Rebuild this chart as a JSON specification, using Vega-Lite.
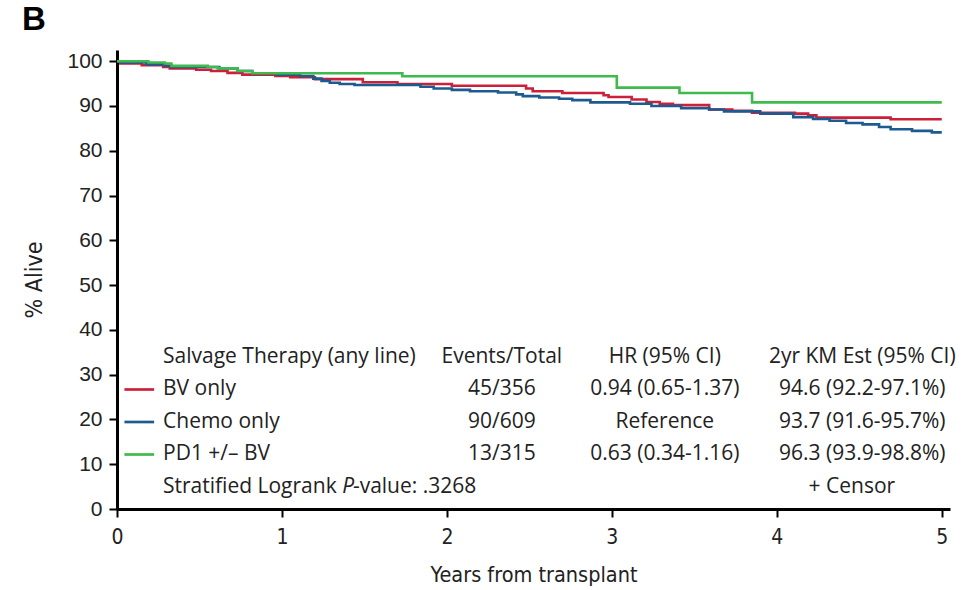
{
  "$schema": "https://vega.github.io/schema/vega-lite/v6.json",
  "width": 833,
  "height": 459,
  "autosize": {"type": "none"},
  "padding": {"left": 117, "top": 50, "right": 19, "bottom": 81},
  "background": "white",
  "title": {
    "text": "B",
    "anchor": "start",
    "frame": "group",
    "dx": -95,
    "offset": 13,
    "font": "Liberation Sans",
    "fontSize": 33,
    "fontWeight": "bold",
    "color": "#000"
  },
  "config": {
    "view": {"stroke": null},
    "axis": {"grid": false}
  },
  "datasets": {
    "km": [
      {"group": "BV only", "years": 0, "pct": 100},
      {"group": "BV only", "years": 0.02, "pct": 99.5},
      {"group": "BV only", "years": 0.15, "pct": 99.1},
      {"group": "BV only", "years": 0.28, "pct": 98.7},
      {"group": "BV only", "years": 0.32, "pct": 98.4},
      {"group": "BV only", "years": 0.48, "pct": 98.1},
      {"group": "BV only", "years": 0.57, "pct": 97.8},
      {"group": "BV only", "years": 0.67, "pct": 97.4},
      {"group": "BV only", "years": 0.76, "pct": 97.0},
      {"group": "BV only", "years": 0.96, "pct": 96.7},
      {"group": "BV only", "years": 1.05, "pct": 96.4},
      {"group": "BV only", "years": 1.2, "pct": 96.0},
      {"group": "BV only", "years": 1.49, "pct": 95.3},
      {"group": "BV only", "years": 1.7, "pct": 94.9},
      {"group": "BV only", "years": 2.03, "pct": 94.5},
      {"group": "BV only", "years": 2.48, "pct": 93.9},
      {"group": "BV only", "years": 2.52, "pct": 93.3},
      {"group": "BV only", "years": 2.7, "pct": 92.9},
      {"group": "BV only", "years": 2.95, "pct": 92.4},
      {"group": "BV only", "years": 2.98, "pct": 92.0},
      {"group": "BV only", "years": 3.12, "pct": 91.45},
      {"group": "BV only", "years": 3.21, "pct": 90.9},
      {"group": "BV only", "years": 3.29, "pct": 90.5},
      {"group": "BV only", "years": 3.37, "pct": 90.2},
      {"group": "BV only", "years": 3.59, "pct": 89.2},
      {"group": "BV only", "years": 3.73, "pct": 88.9},
      {"group": "BV only", "years": 3.85, "pct": 88.5},
      {"group": "BV only", "years": 4.11, "pct": 88.3},
      {"group": "BV only", "years": 4.19, "pct": 87.9},
      {"group": "BV only", "years": 4.24, "pct": 87.4},
      {"group": "BV only", "years": 4.69, "pct": 87.05},
      {"group": "BV only", "years": 5.0, "pct": 87.05},
      {"group": "Chemo only", "years": 0, "pct": 100},
      {"group": "Chemo only", "years": 0.02, "pct": 99.7},
      {"group": "Chemo only", "years": 0.18, "pct": 99.3},
      {"group": "Chemo only", "years": 0.29, "pct": 99.0},
      {"group": "Chemo only", "years": 0.33, "pct": 98.7},
      {"group": "Chemo only", "years": 0.62, "pct": 98.4},
      {"group": "Chemo only", "years": 0.73, "pct": 97.8},
      {"group": "Chemo only", "years": 0.82, "pct": 97.3},
      {"group": "Chemo only", "years": 0.97, "pct": 97.0},
      {"group": "Chemo only", "years": 1.11, "pct": 96.7},
      {"group": "Chemo only", "years": 1.19, "pct": 96.1},
      {"group": "Chemo only", "years": 1.24, "pct": 95.6},
      {"group": "Chemo only", "years": 1.29, "pct": 95.2},
      {"group": "Chemo only", "years": 1.35, "pct": 94.9},
      {"group": "Chemo only", "years": 1.44, "pct": 94.7},
      {"group": "Chemo only", "years": 1.84, "pct": 94.3},
      {"group": "Chemo only", "years": 1.92, "pct": 93.9},
      {"group": "Chemo only", "years": 2.03, "pct": 93.6},
      {"group": "Chemo only", "years": 2.14, "pct": 93.3},
      {"group": "Chemo only", "years": 2.31, "pct": 93.0},
      {"group": "Chemo only", "years": 2.42, "pct": 92.6},
      {"group": "Chemo only", "years": 2.46, "pct": 92.2},
      {"group": "Chemo only", "years": 2.56, "pct": 91.9},
      {"group": "Chemo only", "years": 2.68, "pct": 91.6},
      {"group": "Chemo only", "years": 2.76, "pct": 91.3},
      {"group": "Chemo only", "years": 2.87, "pct": 90.8},
      {"group": "Chemo only", "years": 3.11, "pct": 90.5},
      {"group": "Chemo only", "years": 3.24, "pct": 90.0},
      {"group": "Chemo only", "years": 3.42, "pct": 89.5},
      {"group": "Chemo only", "years": 3.59, "pct": 89.2},
      {"group": "Chemo only", "years": 3.68, "pct": 88.8},
      {"group": "Chemo only", "years": 3.9, "pct": 88.3},
      {"group": "Chemo only", "years": 4.1, "pct": 87.5},
      {"group": "Chemo only", "years": 4.22, "pct": 87.1},
      {"group": "Chemo only", "years": 4.32, "pct": 86.7},
      {"group": "Chemo only", "years": 4.42, "pct": 86.2},
      {"group": "Chemo only", "years": 4.52, "pct": 85.9},
      {"group": "Chemo only", "years": 4.62, "pct": 85.3},
      {"group": "Chemo only", "years": 4.69, "pct": 84.8},
      {"group": "Chemo only", "years": 4.82, "pct": 84.45},
      {"group": "Chemo only", "years": 4.94, "pct": 84.1},
      {"group": "Chemo only", "years": 5.0, "pct": 84.1},
      {"group": "PD1 +/– BV", "years": 0, "pct": 100},
      {"group": "PD1 +/– BV", "years": 0.19, "pct": 99.7},
      {"group": "PD1 +/– BV", "years": 0.29, "pct": 99.5},
      {"group": "PD1 +/– BV", "years": 0.33, "pct": 98.95},
      {"group": "PD1 +/– BV", "years": 0.55, "pct": 98.7},
      {"group": "PD1 +/– BV", "years": 0.61, "pct": 98.4},
      {"group": "PD1 +/– BV", "years": 0.73, "pct": 97.8},
      {"group": "PD1 +/– BV", "years": 0.82, "pct": 97.3},
      {"group": "PD1 +/– BV", "years": 1.73, "pct": 96.65},
      {"group": "PD1 +/– BV", "years": 3.03, "pct": 94.1},
      {"group": "PD1 +/– BV", "years": 3.41, "pct": 92.9},
      {"group": "PD1 +/– BV", "years": 3.85, "pct": 90.8},
      {"group": "PD1 +/– BV", "years": 5.0, "pct": 90.8}
    ],
    "table": [
      {"order": 0, "group": "Salvage Therapy (any line)", "events": "Events/Total", "hr": "HR (95% CI)", "km": "2yr KM Est (95% CI)"},
      {"order": 1, "group": "BV only", "events": "45/356", "hr": "0.94 (0.65-1.37)", "km": "94.6 (92.2-97.1%)"},
      {"order": 2, "group": "Chemo only", "events": "90/609", "hr": "Reference", "km": "93.7 (91.6-95.7%)"},
      {"order": 3, "group": "PD1 +/– BV", "events": "13/315", "hr": "0.63 (0.34-1.16)", "km": "96.3 (93.9-98.8%)"}
    ],
    "footer": [
      {"order": 4, "lead": "Stratified Logrank", "p": "P", "tail": "-value: .3268", "censor": "+ Censor"}
    ]
  },
  "resolve": {"scale": {"y": "independent"}},
  "layer": [
    {
      "data": {"name": "km"},
      "mark": {"type": "line", "interpolate": "step-after", "strokeWidth": 2.6},
      "encoding": {
        "x": {
          "field": "years",
          "type": "quantitative",
          "scale": {"domain": [0, 5.05], "nice": false, "zero": false},
          "axis": {
            "values": [0, 1, 2, 3, 4, 5],
            "format": "d",
            "labelFlush": false,
            "title": "Years from transplant",
            "domainColor": "#000",
            "domainWidth": 3,
            "tickColor": "#000",
            "tickWidth": 2,
            "tickSize": 8,
            "labelFont": "Liberation Sans Narrow, DejaVu Sans Condensed, Liberation Sans",
            "labelFontSize": 21,
            "labelColor": "#222",
            "labelPadding": 9,
            "titleFont": "Liberation Sans Narrow, DejaVu Sans Condensed, Liberation Sans",
            "titleFontSize": 21.5,
            "titleFontWeight": "normal",
            "titleColor": "#222",
            "titlePadding": 17
          }
        },
        "y": {
          "field": "pct",
          "type": "quantitative",
          "scale": {"domain": [0, 102.5], "nice": false, "zero": false},
          "axis": {
            "values": [0, 10, 20, 30, 40, 50, 60, 70, 80, 90, 100],
            "labelFlush": false,
            "title": "% Alive",
            "domainColor": "#000",
            "domainWidth": 3,
            "tickColor": "#000",
            "tickWidth": 2,
            "tickSize": 8,
            "labelFont": "Liberation Sans",
            "labelFontSize": 21,
            "labelColor": "#222",
            "labelPadding": 7,
            "titleFont": "Liberation Sans Narrow, DejaVu Sans Condensed, Liberation Sans",
            "titleFontSize": 23,
            "titleFontWeight": "normal",
            "titleColor": "#222",
            "titlePadding": 20
          }
        },
        "color": {
          "field": "group",
          "type": "nominal",
          "scale": {
            "domain": ["BV only", "Chemo only", "PD1 +/– BV"],
            "range": ["#cc1f3a", "#1d5a8f", "#3fba4c"]
          },
          "legend": null
        }
      }
    },
    {
      "data": {"name": "table"},
      "transform": [{"filter": "datum.order >= 1"}],
      "mark": {"type": "rule", "strokeWidth": 2.7},
      "encoding": {
        "x": {"datum": 0.045},
        "x2": {"datum": 0.225},
        "y": {
          "field": "order",
          "type": "quantitative",
          "scale": {"domain": [-9.446, 4.677], "reverse": true, "nice": false, "zero": false},
          "axis": null
        },
        "color": {"field": "group", "type": "nominal", "legend": null}
      }
    },
    {
      "data": {"name": "table"},
      "mark": {"type": "text", "align": "left", "baseline": "middle", "font": "Open Sans", "fontSize": 21, "color": "#222"},
      "encoding": {
        "x": {"datum": 0.279},
        "y": {
          "field": "order",
          "type": "quantitative",
          "scale": {"domain": [-9.446, 4.677], "reverse": true, "nice": false, "zero": false},
          "axis": null
        },
        "text": {"field": "group"}
      }
    },
    {
      "data": {"name": "table"},
      "mark": {"type": "text", "align": "center", "baseline": "middle", "font": "Open Sans", "fontSize": 21, "color": "#222"},
      "encoding": {
        "x": {"datum": 2.333},
        "y": {
          "field": "order",
          "type": "quantitative",
          "scale": {"domain": [-9.446, 4.677], "reverse": true, "nice": false, "zero": false},
          "axis": null
        },
        "text": {"field": "events"}
      }
    },
    {
      "data": {"name": "table"},
      "mark": {"type": "text", "align": "center", "baseline": "middle", "font": "Open Sans", "fontSize": 21, "color": "#222"},
      "encoding": {
        "x": {"datum": 3.321},
        "y": {
          "field": "order",
          "type": "quantitative",
          "scale": {"domain": [-9.446, 4.677], "reverse": true, "nice": false, "zero": false},
          "axis": null
        },
        "text": {"field": "hr"}
      }
    },
    {
      "data": {"name": "table"},
      "mark": {"type": "text", "align": "center", "baseline": "middle", "font": "Open Sans", "fontSize": 21, "color": "#222"},
      "encoding": {
        "x": {"datum": 4.518},
        "y": {
          "field": "order",
          "type": "quantitative",
          "scale": {"domain": [-9.446, 4.677], "reverse": true, "nice": false, "zero": false},
          "axis": null
        },
        "text": {"field": "km"}
      }
    },
    {
      "data": {"name": "footer"},
      "mark": {"type": "text", "align": "left", "baseline": "middle", "font": "Open Sans", "fontSize": 21, "color": "#222"},
      "encoding": {
        "x": {"datum": 0.279},
        "y": {
          "field": "order",
          "type": "quantitative",
          "scale": {"domain": [-9.446, 4.677], "reverse": true, "nice": false, "zero": false},
          "axis": null
        },
        "text": {"field": "lead"}
      }
    },
    {
      "data": {"name": "footer"},
      "mark": {"type": "text", "align": "left", "baseline": "middle", "font": "Open Sans", "fontSize": 21, "fontStyle": "italic", "color": "#222"},
      "encoding": {
        "x": {"datum": 1.365},
        "y": {
          "field": "order",
          "type": "quantitative",
          "scale": {"domain": [-9.446, 4.677], "reverse": true, "nice": false, "zero": false},
          "axis": null
        },
        "text": {"field": "p"}
      }
    },
    {
      "data": {"name": "footer"},
      "mark": {"type": "text", "align": "left", "baseline": "middle", "font": "Open Sans", "fontSize": 21, "color": "#222"},
      "encoding": {
        "x": {"datum": 1.43},
        "y": {
          "field": "order",
          "type": "quantitative",
          "scale": {"domain": [-9.446, 4.677], "reverse": true, "nice": false, "zero": false},
          "axis": null
        },
        "text": {"field": "tail"}
      }
    },
    {
      "data": {"name": "footer"},
      "mark": {"type": "text", "align": "center", "baseline": "middle", "font": "Open Sans", "fontSize": 21, "color": "#222"},
      "encoding": {
        "x": {"datum": 4.455},
        "y": {
          "field": "order",
          "type": "quantitative",
          "scale": {"domain": [-9.446, 4.677], "reverse": true, "nice": false, "zero": false},
          "axis": null
        },
        "text": {"field": "censor"}
      }
    }
  ]
}
